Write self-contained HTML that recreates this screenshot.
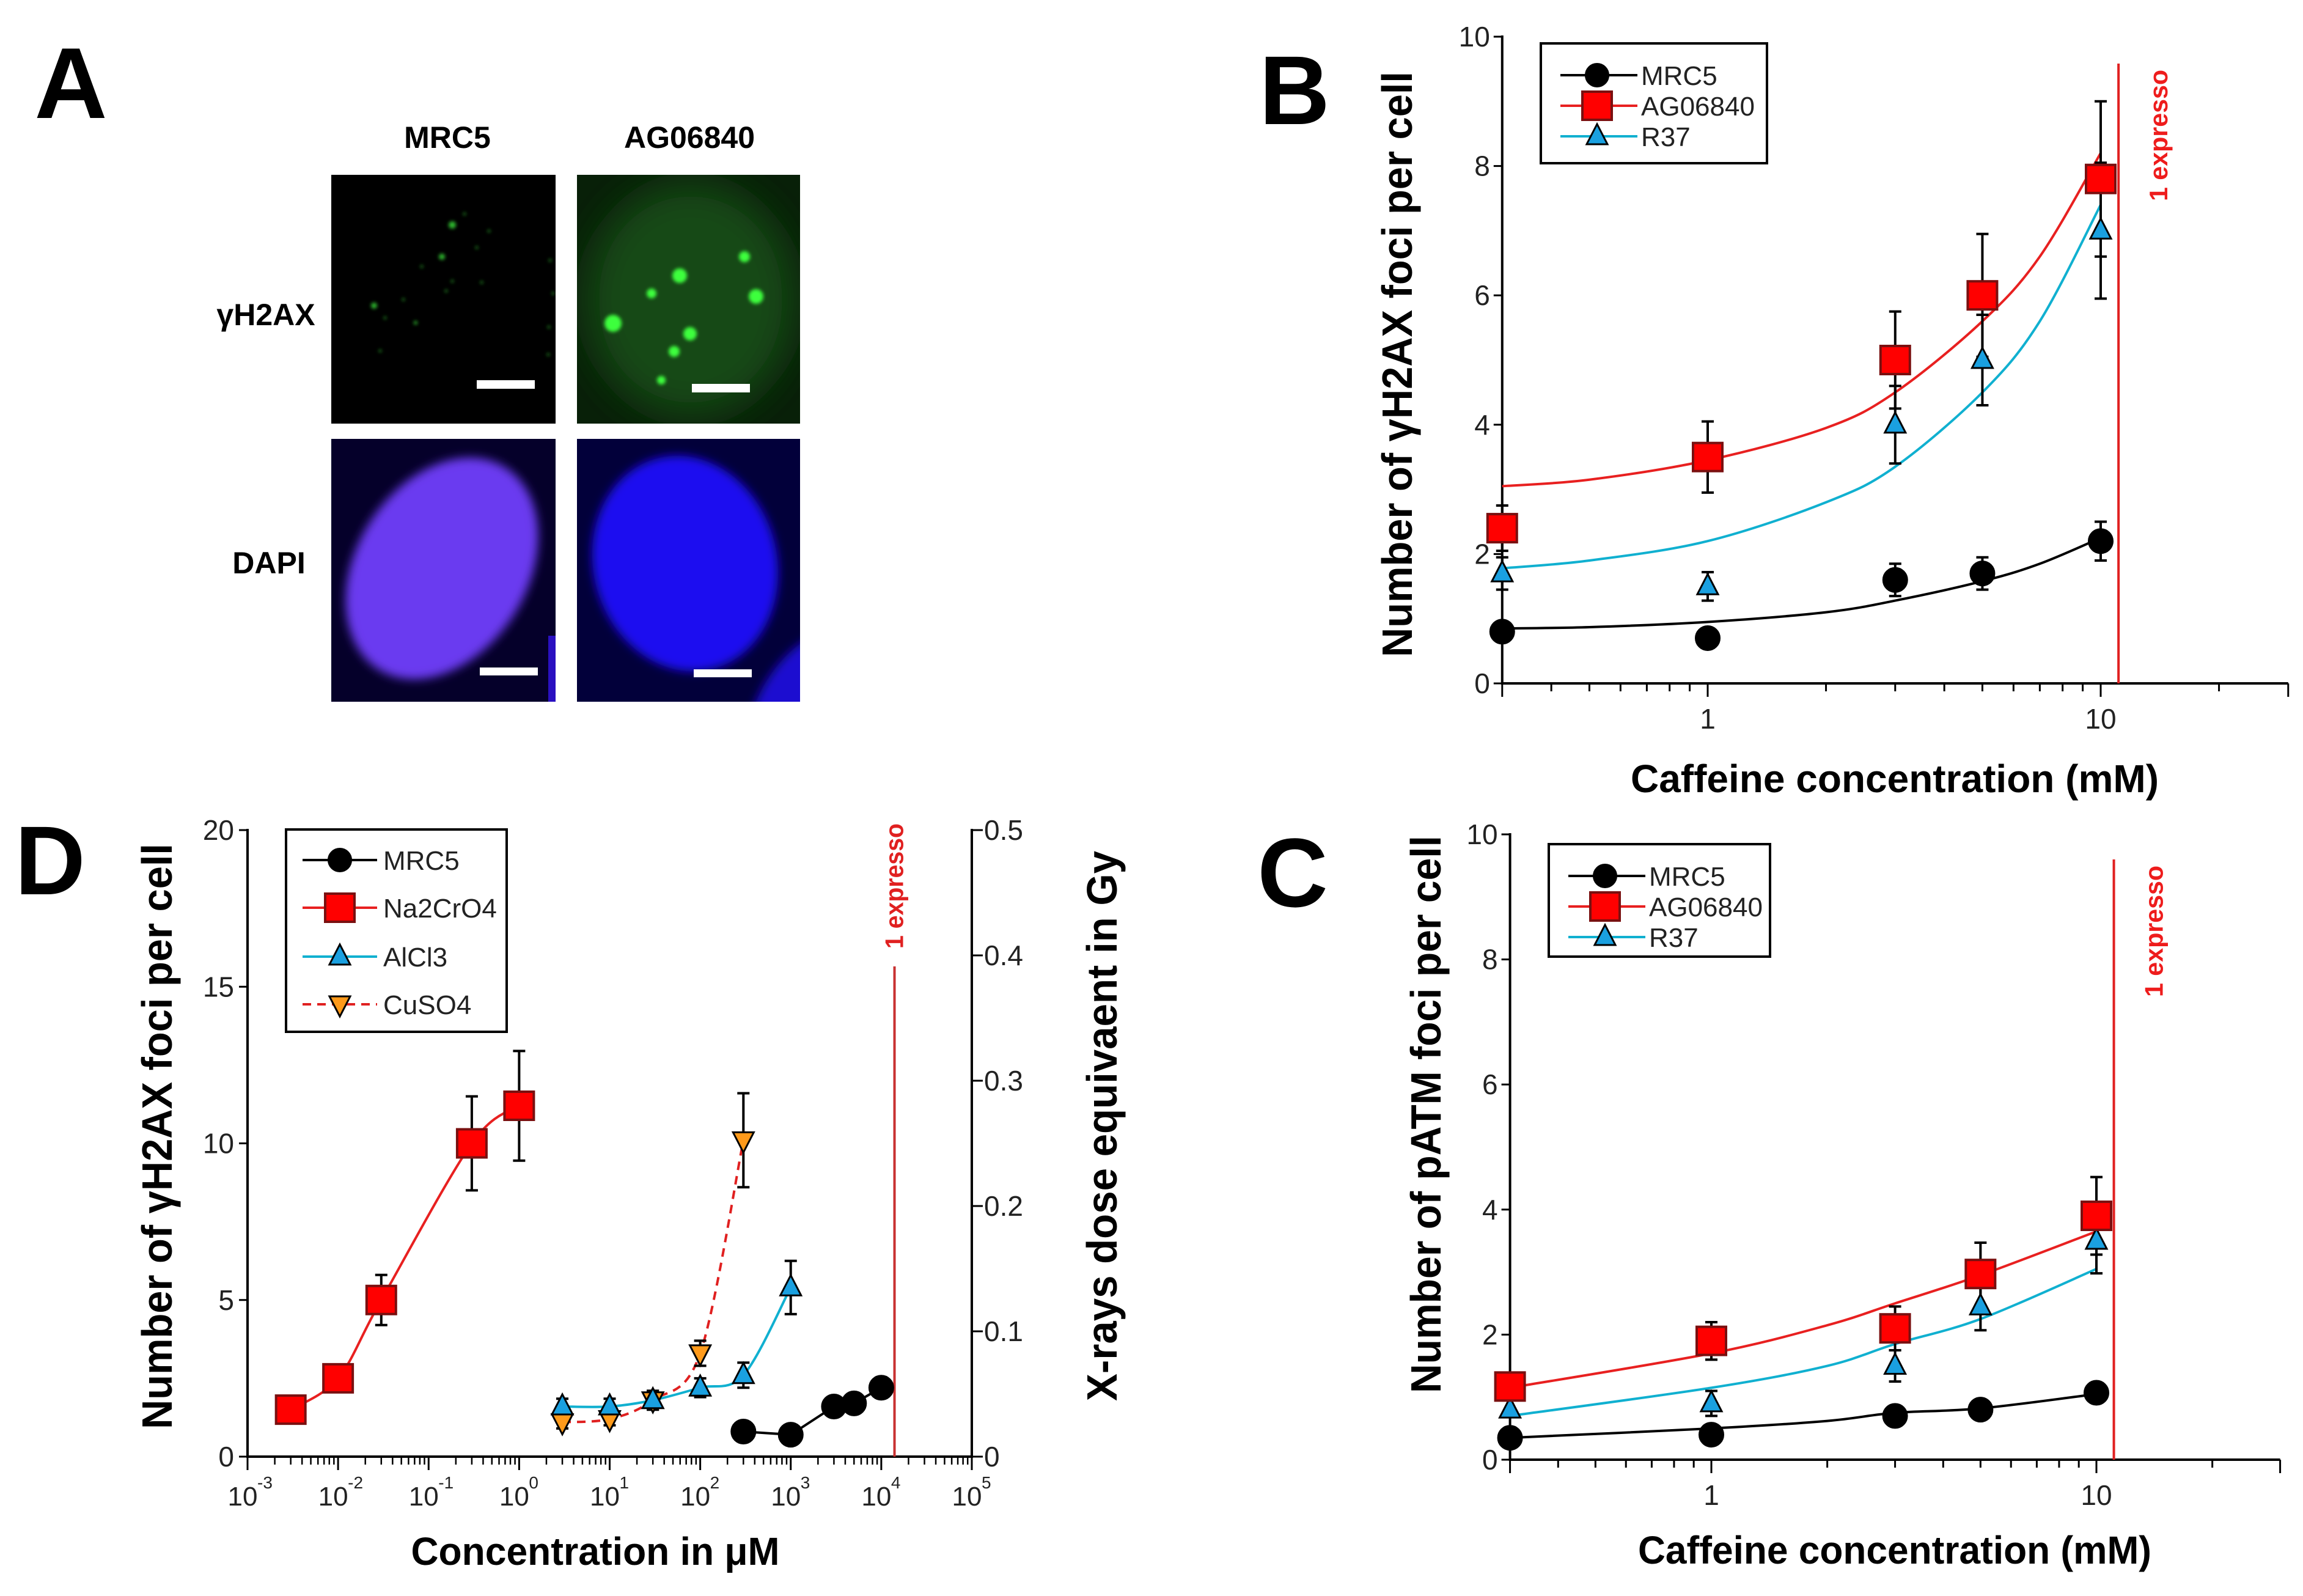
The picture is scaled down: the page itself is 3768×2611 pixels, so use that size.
<!DOCTYPE html>
<html><head><meta charset="utf-8"><style>
html,body{margin:0;padding:0;background:#fff;}
svg{display:block;font-family:"Liberation Sans",sans-serif;}
</style></head><body>
<svg id="fig" width="3768" height="2611" viewBox="0 0 3768 2611" xmlns="http://www.w3.org/2000/svg">
<defs>
<filter id="blur8"><feGaussianBlur stdDeviation="8"/></filter>
<filter id="blur3"><feGaussianBlur stdDeviation="3"/></filter>
<filter id="blur30"><feGaussianBlur stdDeviation="30"/></filter>
<clipPath id="c1"><rect x="542" y="286" width="367" height="407"/></clipPath>
<clipPath id="c2"><rect x="944" y="286" width="365" height="407"/></clipPath>
<clipPath id="c3"><rect x="542" y="718" width="367" height="430"/></clipPath>
<clipPath id="c4"><rect x="944" y="718" width="365" height="430"/></clipPath>
</defs>
<g>
<text x="116" y="193" font-size="165" font-weight="bold" text-anchor="middle">A</text>
<text x="732" y="242" font-size="50" font-weight="bold" text-anchor="middle">MRC5</text>
<text x="1128" y="242" font-size="50" font-weight="bold" text-anchor="middle">AG06840</text>
<text x="435" y="532" font-size="50" font-weight="bold" text-anchor="middle" font-family="Liberation Sans, DejaVu Sans, sans-serif">γH2AX</text>
<text x="440" y="938" font-size="50" font-weight="bold" text-anchor="middle">DAPI</text>
<g clip-path="url(#c1)">
<rect x="542" y="286" width="367" height="407" fill="#000"/>
<g fill="#2fb82f" filter="url(#blur3)">
<circle cx="740" cy="368" r="6"/><circle cx="723" cy="420" r="5"/><circle cx="612" cy="500" r="5"/><circle cx="680" cy="528" r="3"/><circle cx="660" cy="490" r="2"/><circle cx="760" cy="350" r="2"/><circle cx="800" cy="378" r="2"/><circle cx="730" cy="476" r="2"/><circle cx="780" cy="405" r="2"/><circle cx="740" cy="460" r="2"/><circle cx="690" cy="436" r="2"/><circle cx="630" cy="520" r="2"/><circle cx="900" cy="426" r="2"/><circle cx="905" cy="480" r="2"/><circle cx="898" cy="535" r="2"/><circle cx="897" cy="580" r="2"/><circle cx="622" cy="574" r="2"/><circle cx="788" cy="462" r="2"/>
</g>
<rect x="780" y="622" width="95" height="14" fill="#fff"/>
</g>
<g clip-path="url(#c2)">
<rect x="944" y="286" width="365" height="407" fill="#082008"/>
<ellipse cx="1130" cy="490" rx="170" ry="190" fill="#174a17" filter="url(#blur30)"/>
<g fill="#3cff3c" filter="url(#blur3)">
<circle cx="1112" cy="451" r="12"/><circle cx="1066" cy="480" r="8"/><circle cx="1003" cy="529" r="14"/><circle cx="1129" cy="546" r="11"/><circle cx="1103" cy="575" r="9"/><circle cx="1082" cy="622" r="7"/><circle cx="1218" cy="420" r="9"/><circle cx="1237" cy="485" r="12"/>
</g>
<rect x="1132" y="628" width="95" height="14" fill="#fff"/>
</g>
<g clip-path="url(#c3)">
<rect x="542" y="718" width="367" height="430" fill="#05002a"/>
<ellipse cx="723" cy="930" rx="195" ry="140" transform="rotate(-58 723 930)" fill="#6a3af0" filter="url(#blur8)"/>
<rect x="897" y="1040" width="12" height="110" fill="#2a10c0"/>
<rect x="785" y="1092" width="95" height="13" fill="#fff"/>
</g>
<g clip-path="url(#c4)">
<rect x="944" y="718" width="365" height="430" fill="#02003a"/>
<ellipse cx="1121" cy="922" rx="150" ry="178" transform="rotate(-15 1121 922)" fill="#1a10f0" filter="url(#blur8)"/>
<ellipse cx="1320" cy="1160" rx="80" ry="140" transform="rotate(30 1320 1160)" fill="#1a10d0" filter="url(#blur8)"/>
<rect x="1135" y="1095" width="95" height="13" fill="#fff"/>
</g>
</g>
<text x="2118" y="203" font-size="160" font-weight="bold" text-anchor="middle">B</text>
<text x="2115" y="1483" font-size="160" font-weight="bold" text-anchor="middle">C</text>
<text x="82" y="1463" font-size="160" font-weight="bold" text-anchor="middle">D</text>
<g id="plots"></g>
</svg>
<script>
// ---------- Panel B data ----------
const bX = [0.3, 1, 3, 5, 10];
const bMRC5 = [0.8, 0.7, 1.6, 1.7, 2.2];
const bMRC5Err = [0, 0, 0.25, 0.25, 0.3];
const bAG = [2.4, 3.5, 5.0, 6.0, 7.8];
const bAGErr = [0.35, 0.55, 0.75, 0.95, 1.2];
const bR37 = [1.7, 1.5, 4.0, 5.0, 7.0];
const bR37Err = [0.25, 0.22, 0.6, 0.7, 1.05];
const bFitX = [0.3, 0.5, 1, 2, 3, 5, 7, 10];
const bFitMRC5 = [0.85, 0.87, 0.95, 1.1, 1.28, 1.58, 1.85, 2.25];
const bFitAG = [3.05, 3.15, 3.45, 3.95, 4.5, 5.6, 6.6, 8.2];
const bFitR37 = [1.78, 1.9, 2.2, 2.8, 3.35, 4.5, 5.6, 7.4];
const bYTicks = [0, 2, 4, 6, 8, 10];
const bXTickLabels = ["1", "10"];
// ---------- Panel C data ----------
const cX = [0.3, 1, 3, 5, 10];
const cMRC5 = [0.35, 0.4, 0.7, 0.8, 1.07];
const cMRC5Err = [0, 0, 0, 0, 0];
const cAG = [1.17, 1.9, 2.1, 2.97, 3.9];
const cAGErr = [0.2, 0.3, 0.35, 0.5, 0.62];
const cR37 = [0.8, 0.9, 1.5, 2.45, 3.5];
const cR37Err = [0, 0.2, 0.25, 0.38, 0.52];
const cFitX = [0.3, 1, 2, 3, 5, 10];
const cFitMRC5 = [0.35, 0.5, 0.62, 0.75, 0.82, 1.05];
const cFitAG = [1.15, 1.7, 2.15, 2.5, 2.95, 3.65];
const cFitR37 = [0.7, 1.15, 1.5, 1.85, 2.25, 3.05];
const cYTicks = [0, 2, 4, 6, 8, 10];
// ---------- Panel D data ----------
const dCrX = [0.003, 0.01, 0.03, 0.3, 1];
const dCr = [1.5, 2.5, 5.0, 10.0, 11.2];
const dCrErr = [0.3, 0.35, 0.8, 1.5, 1.75];
const dAlX = [3, 10, 30, 100, 300, 1000];
const dAl = [1.6, 1.6, 1.8, 2.2, 2.6, 5.4];
const dAlErr = [0.25, 0.25, 0.3, 0.3, 0.4, 0.85];
const dCuX = [3, 10, 30, 100, 300];
const dCu = [1.1, 1.2, 1.8, 3.3, 10.1];
const dCuErr = [0.2, 0.2, 0.3, 0.4, 1.5];
const dMrcX = [300, 1000, 3000, 5000, 10000];
const dMrc = [0.8, 0.7, 1.6, 1.7, 2.2];
const dYTicks = [0, 5, 10, 15, 20];
const dY2Ticks = ["0", "0.1", "0.2", "0.3", "0.4", "0.5"];
const dXExps = ["-3", "-2", "-1", "0", "1", "2", "3", "4", "5"];

const NS = "http://www.w3.org/2000/svg";
const root = document.getElementById("plots");
function mk(tag, attrs, parent) {
  const e = document.createElementNS(NS, tag);
  for (const k in attrs) e.setAttribute(k, attrs[k]);
  (parent || root).appendChild(e);
  return e;
}
function spline(pts) {
  if (pts.length < 2) return "";
  let d = "M" + pts[0][0] + "," + pts[0][1];
  for (let i = 0; i < pts.length - 1; i++) {
    const p0 = pts[i - 1] || pts[i], p1 = pts[i], p2 = pts[i + 1], p3 = pts[i + 2] || p2;
    const c1x = p1[0] + (p2[0] - p0[0]) / 6, c1y = p1[1] + (p2[1] - p0[1]) / 6;
    const c2x = p2[0] - (p3[0] - p1[0]) / 6, c2y = p2[1] - (p3[1] - p1[1]) / 6;
    d += " C" + c1x + "," + c1y + " " + c2x + "," + c2y + " " + p2[0] + "," + p2[1];
  }
  return d;
}
function marker(g, type, x, y, s) {
  let e;
  if (type === "circle") e = mk("circle", {cx: x, cy: y, r: 20, fill: "#000", stroke: "#000", "stroke-width": 2}, g);
  else if (type === "square") e = mk("rect", {x: x - 24, y: y - 23, width: 48, height: 46, fill: "#f00", stroke: "#7a1010", "stroke-width": 4}, g);
  else if (type === "tri") e = mk("polygon", {points: (x) + "," + (y - 20) + " " + (x - 17) + "," + (y + 13) + " " + (x + 17) + "," + (y + 13), fill: "#1aa0e0", stroke: "#000", "stroke-width": 3}, g);
  else e = mk("polygon", {points: (x) + "," + (y + 20) + " " + (x - 17) + "," + (y - 13) + " " + (x + 17) + "," + (y - 13), fill: "#ff9a1a", stroke: "#000", "stroke-width": 3}, g);
  
  
  return e;
}
function errBar(g, x, y1, y2) {
  mk("line", {x1: x, y1: y1, x2: x, y2: y2, stroke: "#000", "stroke-width": 4}, g);
  mk("line", {x1: x - 10, y1: y1, x2: x + 10, y2: y1, stroke: "#000", "stroke-width": 4}, g);
  mk("line", {x1: x - 10, y1: y2, x2: x + 10, y2: y2, stroke: "#000", "stroke-width": 4}, g);
}

function caffeinePanel(o) {
  const g = mk("g", {});
  
  
  const dec = (o.x10 - o.x1);
  const sx = v => o.x1 + Math.log10(v) * dec;
  const sy = v => o.y0 + (o.y10 - o.y0) * v / 10;
  const left = sx(0.3), right = sx(30);
  const ya = mk("line", {x1: left, y1: o.y10 - 2, x2: left, y2: o.y0 + 2, stroke: "#000", "stroke-width": 4}, g);
  
  
  const xa = mk("line", {x1: left, y1: o.y0, x2: right, y2: o.y0, stroke: "#000", "stroke-width": 4}, g);
  
  
  o.yTicks.forEach(t => {
    mk("line", {x1: left - 14, y1: sy(t), x2: left, y2: sy(t), stroke: "#000", "stroke-width": 3}, g);
    const tl = mk("text", {x: left - 20, y: sy(t) + 16, "font-size": 46, "text-anchor": "end", fill: "#222"}, g);
    tl.textContent = String(t);
    
    
  });
  [0.3,0.4,0.5,0.6,0.7,0.8,0.9,1,2,3,4,5,6,7,8,9,10,20,30].forEach(v => {
    const major = (v === 1 || v === 10 || v === 0.3 || v === 30);
    mk("line", {x1: sx(v), y1: o.y0, x2: sx(v), y2: o.y0 + (major ? 22 : 13), stroke: "#000", "stroke-width": 3}, g);
  });
  [1, 10].forEach((v, i) => {
    const tl = mk("text", {x: sx(v), y: o.y0 + o.xlabOff, "font-size": 46, "text-anchor": "middle", fill: "#222"}, g);
    tl.textContent = bXTickLabels[i];
    
    
  });
  const rl = mk("line", {x1: sx(o.redX), y1: o.redTop, x2: sx(o.redX), y2: o.y0, stroke: "#e02020", "stroke-width": 4}, g);
  
  
  const rt = mk("text", {x: 0, y: 0, "font-size": 42, "font-weight": "bold", fill: "#ee1c1c", transform: "translate(" + (sx(o.redX) + 80) + "," + (o.redTop + 225) + ") rotate(-90)", textLength: 215, lengthAdjust: "spacingAndGlyphs"}, g);
  rt.textContent = "1 expresso";
  
  
  const series = [
    {n: "mrc5", col: "#000", fit: o.fitM, y: o.m, e: o.me, t: "circle"},
    {n: "r37", col: "#10b0d0", fit: o.fitR, y: o.r, e: o.re, t: "tri"},
    {n: "ag06840", col: "#e82020", fit: o.fitA, y: o.a, e: o.ae, t: "square"}
  ];
  series.forEach(s => {
    const p = mk("path", {d: spline(o.fitX.map((x, i) => [sx(x), sy(s.fit[i])])), fill: "none", stroke: s.col, "stroke-width": 4}, g);
    
    
  });
  series.forEach(s => {
    o.x.forEach((x, i) => { if (s.e[i] > 0) errBar(g, sx(x), sy(s.y[i] - s.e[i]), sy(s.y[i] + s.e[i])); });
  });
  series.forEach(s => { o.x.forEach((x, i) => marker(g, s.t, sx(x), sy(s.y[i]), s.n)); });
  const lg = mk("g", {}, g);
  
  
  mk("rect", {x: o.lg[0], y: o.lg[1], width: o.lg[2], height: o.lg[3], fill: "#fff", stroke: "#000", "stroke-width": 4}, lg);
  [["MRC5", "#000", "circle"], ["AG06840", "#e82020", "square"], ["R37", "#10b0d0", "tri"]].forEach((L, i) => {
    const yy = o.lg[1] + 52 + i * 50;
    const le = mk("g", {}, lg);
    
    
    mk("line", {x1: o.lg[0] + 32, y1: yy, x2: o.lg[0] + 158, y2: yy, stroke: L[1], "stroke-width": 4}, le);
    const m = marker(le, L[2], o.lg[0] + 92, yy, "legend-" + L[0].toLowerCase());
    if (L[2] === "circle") m.setAttribute("r", 19);
    const t = mk("text", {x: o.lg[0] + 164, y: yy + 16, "font-size": 44, fill: "#222"}, le);
    t.textContent = L[0];
  });
  const yt = mk("text", {x: 0, y: 0, "font-size": 70, "font-weight": "bold", "text-anchor": "middle", transform: "translate(" + o.ytX + "," + o.ytY + ") rotate(-90)", textLength: o.ytLen, lengthAdjust: "spacingAndGlyphs"}, g);
  yt.textContent = o.ytText;
  
  
  const xt = mk("text", {x: 3100, y: o.xtY, "font-size": 64, "font-weight": "bold", "text-anchor": "middle", textLength: o.xtLen, lengthAdjust: "spacingAndGlyphs"}, g);
  xt.textContent = "Caffeine concentration (mM)";
  
  
}
caffeinePanel({name: "panel-b-chart", x1: 2794, x10: 3437, y0: 1118, y10: 60, redX: 11.1, redTop: 104, xlabOff: 74,
  x: bX, m: bMRC5, me: bMRC5Err, a: bAG, ae: bAGErr, r: bR37, re: bR37Err,
  fitX: bFitX, fitM: bFitMRC5, fitA: bFitAG, fitR: bFitR37, yTicks: bYTicks,
  lg: [2521, 71, 370, 196], ytX: 2310, ytY: 596, ytLen: 958, ytText: "Number of γH2AX foci per cell", xtY: 1296, xtLen: 864});
caffeinePanel({name: "panel-c-chart", x1: 2800, x10: 3430, y0: 2388, y10: 1365, redX: 11.1, redTop: 1406, xlabOff: 74,
  x: cX, m: cMRC5, me: cMRC5Err, a: cAG, ae: cAGErr, r: cR37, re: cR37Err,
  fitX: cFitX, fitM: cFitMRC5, fitA: cFitAG, fitR: cFitR37, yTicks: cYTicks,
  lg: [2534, 1381, 362, 184], ytX: 2357, ytY: 1823, ytLen: 912, ytText: "Number of pATM foci per cell", xtY: 2558, xtLen: 840});

(function () {
  const g = mk("g", {});
  
  
  const L = 405, R = 1590, Y0 = 2383, Y20 = 1358;
  const sx = v => L + (Math.log10(v) + 3) * (R - L) / 8;
  const sy = v => Y0 + (Y20 - Y0) * v / 20;
  const ya = mk("line", {x1: L, y1: Y20 - 2, x2: L, y2: Y0 + 2, stroke: "#000", "stroke-width": 4}, g);
  
  
  const ya2 = mk("line", {x1: R, y1: Y20 - 2, x2: R, y2: Y0 + 2, stroke: "#000", "stroke-width": 4}, g);
  
  
  const xa = mk("line", {x1: L, y1: Y0, x2: R, y2: Y0, stroke: "#000", "stroke-width": 4}, g);
  
  
  dYTicks.forEach(t => {
    mk("line", {x1: L - 14, y1: sy(t), x2: L, y2: sy(t), stroke: "#000", "stroke-width": 3}, g);
    const tl = mk("text", {x: L - 22, y: sy(t) + 16, "font-size": 46, "text-anchor": "end", fill: "#222"}, g);
    tl.textContent = String(t);
    
    
  });
  dY2Ticks.forEach((t, i) => {
    const yy = Y0 + (Y20 - Y0) * i / 5;
    mk("line", {x1: R, y1: yy, x2: R + 18, y2: yy, stroke: "#000", "stroke-width": 3}, g);
    const tl = mk("text", {x: R + 20, y: yy + 16, "font-size": 46, fill: "#222"}, g);
    tl.textContent = t;
    
    
  });
  dXExps.forEach((e, i) => {
    const xv = Math.pow(10, i - 3);
    mk("line", {x1: sx(xv), y1: Y0, x2: sx(xv), y2: Y0 + 22, stroke: "#000", "stroke-width": 3}, g);
    if (i < 8) for (let k = 2; k <= 9; k++) mk("line", {x1: sx(xv * k), y1: Y0, x2: sx(xv * k), y2: Y0 + 13, stroke: "#000", "stroke-width": 2.5}, g);
    const tl = mk("text", {x: sx(xv) - 8, y: Y0 + 80, "font-size": 44, "text-anchor": "middle", fill: "#222"}, g);
    tl.textContent = "10";
    
    
    const sp = mk("text", {x: sx(xv) + 16, y: Y0 + 52, "font-size": 28, fill: "#222"}, g);
    sp.textContent = e;
  });
  const rx = sx(14000);
  const rl = mk("line", {x1: rx, y1: 1581, x2: rx, y2: Y0, stroke: "#c83030", "stroke-width": 4}, g);
  
  
  const rt = mk("text", {x: 0, y: 0, "font-size": 42, "font-weight": "bold", fill: "#e02020", transform: "translate(" + (rx + 14) + ",1552) rotate(-90)", textLength: 205, lengthAdjust: "spacingAndGlyphs"}, g);
  rt.textContent = "1 expresso";
  
  
  const series = [
    {n: "mrc5", col: "#000", x: dMrcX, y: dMrc, e: null, t: "circle", dash: null, straight: true},
    {n: "cuso4", col: "#e02020", x: dCuX, y: dCu, e: dCuErr, t: "down", dash: "14,10"},
    {n: "alcl3", col: "#10b0d0", x: dAlX, y: dAl, e: dAlErr, t: "tri", dash: null},
    {n: "na2cro4", col: "#e82020", x: dCrX, y: dCr, e: dCrErr, t: "square", dash: null}
  ];
  series.forEach(s => {
    const pts = s.x.map((x, i) => [sx(x), sy(s.y[i])]);
    const d = s.straight ? "M" + pts.map(p => p.join(",")).join(" L") : spline(pts);
    const attrs = {d: d, fill: "none", stroke: s.col, "stroke-width": 4};
    if (s.dash) attrs["stroke-dasharray"] = s.dash;
    const p = mk("path", attrs, g);
    
    
  });
  series.forEach(s => { if (s.e) s.x.forEach((x, i) => errBar(g, sx(x), sy(s.y[i] - s.e[i]), sy(s.y[i] + s.e[i]))); });
  series.forEach(s => { s.x.forEach((x, i) => marker(g, s.t, sx(x), sy(s.y[i]), s.n)); });
  const lg = mk("g", {}, g);
  
  
  mk("rect", {x: 468, y: 1357, width: 361, height: 331, fill: "#fff", stroke: "#000", "stroke-width": 4}, lg);
  [["MRC5", "#000", "circle", null], ["Na2CrO4", "#e82020", "square", null], ["AlCl3", "#10b0d0", "tri", null], ["CuSO4", "#e02020", "down", "14,10"]].forEach((E, i) => {
    const yy = [1407, 1485, 1565, 1643][i];
    const le = mk("g", {}, lg);
    
    
    const la = {x1: 495, y1: yy, x2: 617, y2: yy, stroke: E[1], "stroke-width": 4};
    if (E[3]) la["stroke-dasharray"] = E[3];
    mk("line", la, le);
    const m = marker(le, E[2], 556, yy, "legend-" + E[0].toLowerCase());
    if (E[2] === "circle") m.setAttribute("r", 19);
    const t = mk("text", {x: 627, y: yy + 16, "font-size": 44, fill: "#222"}, le);
    t.textContent = E[0];
  });
  const yt = mk("text", {x: 0, y: 0, "font-size": 70, "font-weight": "bold", "text-anchor": "middle", transform: "translate(281,1859) rotate(-90)", textLength: 958, lengthAdjust: "spacingAndGlyphs"}, g);
  yt.textContent = "Number of γH2AX foci per cell";
  
  
  const yt2 = mk("text", {x: 0, y: 0, "font-size": 70, "font-weight": "bold", "text-anchor": "middle", transform: "translate(1827,1842) rotate(-90)", textLength: 900, lengthAdjust: "spacingAndGlyphs"}, g);
  yt2.textContent = "X-rays  dose equivaent in Gy";
  
  
  const xt = mk("text", {x: 974, y: 2560, "font-size": 64, "font-weight": "bold", "text-anchor": "middle", textLength: 603, lengthAdjust: "spacingAndGlyphs"}, g);
  xt.textContent = "Concentration in μM";
  
  
})();
</script>
</body></html>
